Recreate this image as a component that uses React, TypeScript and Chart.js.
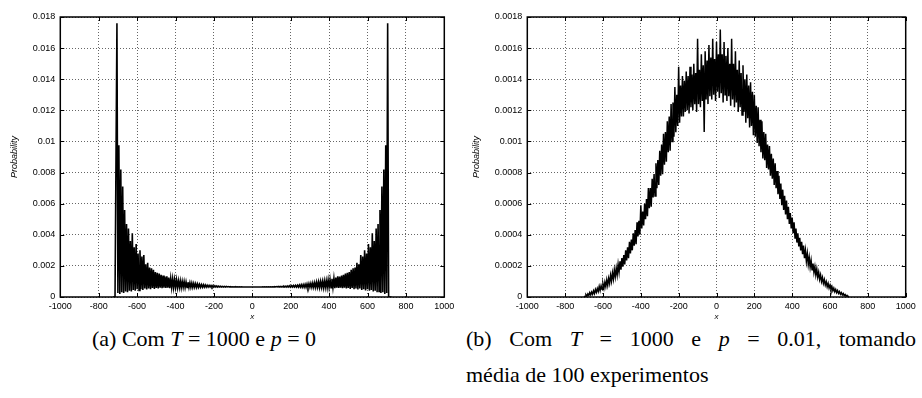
import React, { useEffect, useRef } from "react";
import { Chart, registerables } from "chart.js";

Chart.register(...registerables);

// ---------- Chart (a): T = 1000, p = 0 (values in units of 1e-3) ----------
const peaksA_start = -725; // x of first peak sample
const troughsA_start = -720; // x of first trough sample
const sampleStepA = 10;
const peaksA = [
  0, 0, 17.6, 9.75, 8.2, 7.1, 5.6, 4.7, 4.4, 3.6,
  4.1, 3.2, 3.4, 2.8, 3.0, 2.6, 2.7, 2.1, 2.2, 1.9,
  1.85, 1.75, 1.6, 1.55, 1.5, 1.42, 1.38, 1.32, 1.33, 1.25,
  1.2, 1.17, 1.12, 1.1, 1.05, 1.04, 1.0, 1.0, 0.97, 0.95,
  0.92, 0.9, 0.88, 0.86, 0.84, 0.82, 0.8, 0.79, 0.77, 0.76,
  0.75, 0.74, 0.73, 0.72, 0.71, 0.7, 0.69, 0.685, 0.68, 0.675,
  0.67, 0.665, 0.66, 0.658, 0.655, 0.652, 0.65, 0.648, 0.647, 0.646,
  0.645, 0.645, 0.645,
  0.645, 0.645, 0.645,
  0.646, 0.647, 0.648, 0.65, 0.652, 0.655, 0.658, 0.66, 0.665, 0.67,
  0.675, 0.68, 0.685, 0.69, 0.7, 0.71, 0.72, 0.73, 0.74, 0.75,
  0.76, 0.77, 0.79, 0.8, 0.82, 0.84, 0.86, 0.88, 0.9, 0.92,
  0.95, 0.97, 1.0, 1.0, 1.04, 1.05, 1.1, 1.12, 1.17, 1.2,
  1.25, 1.33, 1.32, 1.38, 1.42, 1.5, 1.55, 1.6, 1.75, 1.85,
  1.9, 2.2, 2.1, 2.7, 2.6, 3.0, 2.8, 3.4, 3.2, 4.1,
  3.6, 4.4, 4.7, 5.6, 7.1, 8.2, 9.75, 17.6, 0, 0,
];
const troughsA = [
  0, 0, 0.25, 0.2, 0.3, 0.25, 0.35, 0.3, 0.4, 0.35,
  0.45, 0.4, 0.5, 0.42, 0.5, 0.45, 0.55, 0.48, 0.55, 0.5,
  0.58, 0.52, 0.58, 0.55, 0.6, 0.56, 0.6, 0.58, 0.6, 0.57,
  0.61, 0.6, 0.62, 0.6, 0.62, 0.6, 0.62, 0.61, 0.62, 0.61,
  0.62, 0.62, 0.63, 0.62, 0.63, 0.63, 0.63, 0.635, 0.635, 0.64,
  0.64, 0.64, 0.64, 0.642, 0.642, 0.643, 0.643, 0.643, 0.644, 0.644,
  0.644, 0.644, 0.644, 0.644, 0.644, 0.644, 0.645, 0.645, 0.645, 0.645,
  0.645, 0.645,
  0.645,
  0.645, 0.645,
  0.645, 0.645, 0.645, 0.645, 0.644, 0.644, 0.644, 0.644, 0.644, 0.644,
  0.644, 0.644, 0.643, 0.643, 0.643, 0.642, 0.642, 0.64, 0.64, 0.64,
  0.64, 0.635, 0.635, 0.63, 0.63, 0.63, 0.62, 0.63, 0.62, 0.62,
  0.61, 0.62, 0.61, 0.62, 0.6, 0.62, 0.6, 0.62, 0.6, 0.61,
  0.57, 0.6, 0.58, 0.6, 0.56, 0.6, 0.55, 0.58, 0.52, 0.58,
  0.5, 0.55, 0.48, 0.55, 0.45, 0.5, 0.42, 0.5, 0.4, 0.45,
  0.35, 0.4, 0.3, 0.35, 0.25, 0.3, 0.2, 0.25, 0, 0,
];
const unitA = 1e-3;

// ---------- Chart (b): T = 1000, p = 0.01, mean of 100 runs (units of 1e-4) ----------
const upperB_start = -700;
const lowerB_start = -695;
const sampleStepB = 10;
const upperB = [
  0.05, 0.15, 0.2, 0.28, 0.32, 0.4, 0.48, 0.55, 0.68, 0.72,
  0.85, 0.95, 1.1, 1.2, 1.4, 1.55, 1.75, 1.85, 2.1, 2.3,
  2.5, 2.7, 3.0, 3.2, 3.55, 3.7, 4.1, 4.3, 4.8, 4.9,
  5.9, 5.5, 6.0, 6.3, 7.0, 7.0, 7.6, 7.9, 8.6, 8.8,
  9.4, 9.8, 10.5, 10.6, 11.3, 11.6, 12.4, 12.5, 13.5, 13.0,
  14.8, 13.6, 14.2, 13.9, 14.5, 14.2, 14.8, 14.3, 15.0, 14.4,
  16.6, 14.6, 15.6, 14.9, 15.8, 15.2, 16.2, 15.4, 16.6, 15.3,
  16.4, 15.6, 17.2, 15.6, 16.4, 15.5, 16.0, 15.0, 16.6, 15.0,
  15.8, 14.6, 15.2, 14.4, 14.9, 14.0, 14.3, 13.6, 13.8, 13.2,
  13.0, 12.3, 12.2, 11.4, 11.3, 10.6, 10.5, 9.8, 9.7, 9.2,
  8.9, 8.6, 8.1, 7.8, 7.3, 6.9, 6.5, 6.2, 5.8, 5.4,
  5.1, 4.8, 4.4, 4.1, 3.8, 3.55, 3.3, 3.0, 2.8, 2.55,
  2.35, 2.15, 1.95, 1.8, 1.6, 1.42, 1.25, 1.12, 0.98, 0.87,
  0.76, 0.66, 0.57, 0.48, 0.41, 0.35, 0.28, 0.22, 0.16, 0.1,
  0.05,
];
const lowerB = [
  0.02, 0.06, 0.1, 0.14, 0.18, 0.22, 0.3, 0.36, 0.42, 0.5,
  0.56, 0.66, 0.75, 0.88, 1.02, 1.15, 1.3, 1.42, 1.6, 1.75,
  1.95, 2.1, 2.35, 2.5, 2.8, 3.0, 3.3, 3.4, 3.9, 4.0,
  4.4, 4.6, 5.0, 5.2, 5.7, 5.8, 6.4, 6.5, 7.0, 7.2,
  7.8, 7.9, 8.5, 8.7, 9.3, 9.4, 10.0, 10.3, 10.6, 11.0,
  11.2, 11.6, 11.6, 11.9, 12.0, 11.8, 12.2, 12.0, 12.4, 11.9,
  12.4, 12.2, 12.6, 10.6, 12.7, 12.4, 12.9, 12.7, 13.0, 12.6,
  13.2, 12.8, 13.1, 12.5, 13.0, 12.6, 12.9, 12.3, 12.7, 12.2,
  12.5, 11.9, 12.2, 11.7, 11.9, 11.2, 11.5, 10.9, 11.0, 10.4,
  10.3, 9.9, 9.7, 9.3, 8.9, 8.8, 8.3, 8.2, 7.8, 7.6,
  7.2, 7.0, 6.6, 6.3, 5.9, 5.6, 5.3, 5.0, 4.7, 4.4,
  4.1, 3.8, 3.5, 3.25, 3.0, 2.75, 2.5, 2.3, 2.1, 1.92,
  1.75, 1.58, 1.42, 1.28, 1.14, 1.0, 0.88, 0.77, 0.66, 0.57,
  0.49, 0.41, 0.34, 0.28, 0.23, 0.18, 0.13, 0.09, 0.05, 0.02,
];
const unitB = 1e-4;

// ---------- Axes ----------
const xTickValues = [-1000, -800, -600, -400, -200, 0, 200, 400, 600, 800, 1000];
const xTickLabels = ["-1000", "-800", "-600", "-400", "-200", "0", "200", "400", "600", "800", "1000"];
const yTickValuesA = [0, 0.002, 0.004, 0.006, 0.008, 0.01, 0.012, 0.014, 0.016, 0.018];
const yTickLabelsA = ["0", "0.002", "0.004", "0.006", "0.008", "0.01", "0.012", "0.014", "0.016", "0.018"];
const yTickValuesB = [0, 0.0002, 0.0004, 0.0006, 0.0008, 0.001, 0.0012, 0.0014, 0.0016, 0.0018];
const yTickLabelsB = ["0", "0.0002", "0.0004", "0.0006", "0.0008", "0.001", "0.0012", "0.0014", "0.0016", "0.0018"];
const xTitle = "x";
const yTitle = "Probability";

function buildPoints(a: number[], a0: number, b: number[], b0: number, step: number, unit: number) {
  const pts: { x: number; y: number }[] = [];
  a.forEach((v, i) => pts.push({ x: a0 + i * step, y: v * unit }));
  b.forEach((v, i) => pts.push({ x: b0 + i * step, y: v * unit }));
  pts.sort((p, q) => p.x - q.x);
  return pts;
}

const FONT = "'Liberation Sans', Arial, Helvetica, sans-serif";

const framePlugin = {
  id: "gnuplotFrame",
  afterDraw(chart: any) {
    const { ctx, chartArea: a, scales } = chart;
    ctx.save();
    ctx.strokeStyle = "#000";
    ctx.lineWidth = 1;
    const len = 4;
    ctx.beginPath();
    scales.x.ticks.forEach((t: any) => {
      const px = Math.round(scales.x.getPixelForValue(t.value)) + 0.5;
      ctx.moveTo(px, a.bottom);
      ctx.lineTo(px, a.bottom - len);
      ctx.moveTo(px, a.top);
      ctx.lineTo(px, a.top + len);
    });
    scales.y.ticks.forEach((t: any) => {
      const py = Math.round(scales.y.getPixelForValue(t.value)) + 0.5;
      ctx.moveTo(a.left, py);
      ctx.lineTo(a.left + len, py);
      ctx.moveTo(a.right, py);
      ctx.lineTo(a.right - len, py);
    });
    ctx.stroke();
    ctx.lineWidth = 1.5;
    ctx.strokeRect(a.left, a.top, a.right - a.left, a.bottom - a.top);
    ctx.restore();
  },
};

type PanelProps = {
  points: { x: number; y: number }[];
  yTicks: number[];
  yLabels: string[];
  yMax: number;
  yWidth: number;
  rightPad: number;
  yTitlePad: number;
  width: number;
  left: number;
  lineWidth: number;
};

function Panel(props: PanelProps) {
  const ref = useRef<HTMLCanvasElement | null>(null);
  useEffect(() => {
    if (!ref.current) return;
    const { points, yTicks, yLabels, yMax, yWidth, rightPad, yTitlePad, lineWidth } = props;
    const chart = new Chart(ref.current, {
      type: "line",
      data: {
        datasets: [
          {
            data: points,
            borderColor: "#000",
            borderWidth: lineWidth,
            borderJoinStyle: "miter",
            pointRadius: 0,
            tension: 0,
            fill: false,
          },
        ],
      },
      options: {
        animation: false,
        responsive: false,
        maintainAspectRatio: false,
        events: [],
        layout: { padding: { top: 17, right: rightPad, left: 0, bottom: 0 } },
        plugins: { legend: { display: false }, tooltip: { enabled: false } },
        scales: {
          x: {
            type: "linear",
            min: -1000,
            max: 1000,
            afterBuildTicks: (s: any) => {
              s.ticks = xTickValues.map((v) => ({ value: v }));
            },
            afterFit: (s: any) => {
              s.height = 28;
            },
            grid: { color: "rgba(0,0,0,0.6)", lineWidth: 1, drawTicks: false },
            border: { display: false, dash: [1, 2] },
            ticks: {
              padding: 4,
              autoSkip: false,
              maxRotation: 0,
              minRotation: 0,
              color: "#000",
              font: { family: FONT, size: 9 },
              callback: (_v: any, i: number) => xTickLabels[i],
            },
            title: {
              display: true,
              text: xTitle,
              color: "#000",
              font: { family: FONT, size: 8, style: "italic" },
              padding: { top: 0, bottom: 3 },
            },
          },
          y: {
            type: "linear",
            min: 0,
            max: yMax,
            afterBuildTicks: (s: any) => {
              s.ticks = yTicks.map((v) => ({ value: v }));
            },
            afterFit: (s: any) => {
              s.width = yWidth;
            },
            grid: { color: "rgba(0,0,0,0.6)", lineWidth: 1, drawTicks: false },
            border: { display: false, dash: [1, 2] },
            ticks: {
              padding: 5,
              autoSkip: false,
              color: "#000",
              font: { family: FONT, size: 9 },
              callback: (_v: any, i: number) => yLabels[i],
            },
            title: {
              display: true,
              text: yTitle,
              color: "#000",
              font: { family: FONT, size: 9, style: "italic" },
              padding: { top: yTitlePad, bottom: 0 },
            },
          },
        },
      } as any,
      plugins: [framePlugin],
    });
    return () => chart.destroy();
  }, []);
  return (
    <canvas
      ref={ref}
      width={props.width}
      height={325}
      style={{ position: "absolute", left: props.left, top: 0, width: props.width, height: 325 }}
    />
  );
}

const SERIF = "'Liberation Serif', 'Times New Roman', Times, serif";

export default function App() {
  const pointsA = buildPoints(peaksA, peaksA_start, troughsA, troughsA_start, sampleStepA, unitA);
  const pointsB = buildPoints(upperB, upperB_start, lowerB, lowerB_start, sampleStepB, unitB);
  const cap: React.CSSProperties = {
    position: "absolute",
    fontFamily: SERIF,
    fontSize: 22,
    lineHeight: "26px",
    color: "#000",
    whiteSpace: "nowrap",
  };
  return (
    <div style={{ position: "fixed", left: 0, top: 0, width: 922, height: 398, background: "#fff", overflow: "hidden" }}>
      <Panel points={pointsA} yTicks={yTickValuesA} yLabels={yTickLabelsA} yMax={0.018} yWidth={60.3} rightPad={15.7} yTitlePad={8.6} width={460} left={0} lineWidth={1.6} />
      <Panel points={pointsB} yTicks={yTickValuesB} yLabels={yTickLabelsB} yMax={0.0018} yWidth={67.3} rightPad={16.3} yTitlePad={11.1} width={462} left={460} lineWidth={1.5} />
      <div style={{ ...cap, left: 92, top: 326 }}>
        (a) Com <i>T</i> = 1000 e <i>p</i> = 0
      </div>
      <div style={{ ...cap, left: 466, top: 326, width: 450, textAlign: "justify", textAlignLast: "justify" as any }}>
        (b) Com <i>T</i> = 1000 e <i>p</i> = 0.01, tomando
      </div>
      <div style={{ ...cap, left: 466, top: 362 }}>média de 100 experimentos</div>
    </div>
  );
}
